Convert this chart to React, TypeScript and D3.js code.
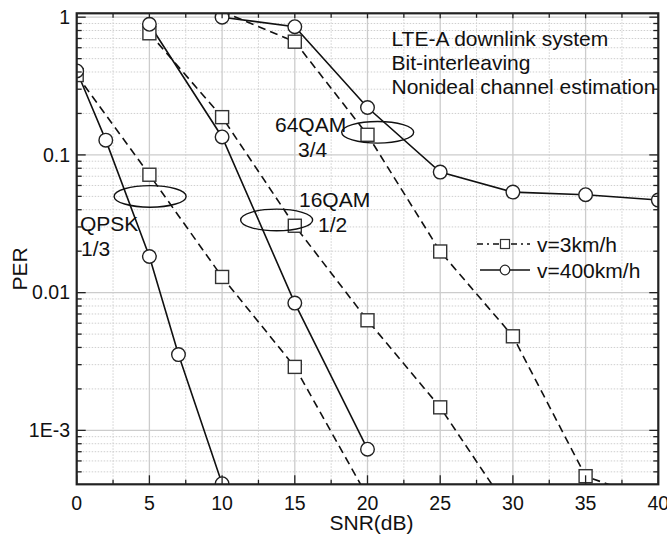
import React from "react";
import * as d3 from "d3";

// ---- data ----
const qpskSnr3 = [0, 5, 10, 15, 20];
const qpskPer3 = [0.38, 0.0718, 0.013, 0.00289, 0.00033];
const qpskSnr400 = [0, 2, 5, 7, 10];
const qpskPer400 = [0.407, 0.128, 0.0183, 0.00355, 0.00041];
const qam16Snr3 = [5, 10, 15, 20, 25, 30];
const qam16Per3 = [0.764, 0.188, 0.0306, 0.0063, 0.00147, 0.00024];
const qam16Snr400 = [5, 10, 15, 20];
const qam16Per400 = [0.888, 0.135, 0.0084, 0.00073];
const qam64Snr3 = [10, 15, 20, 25, 30, 35, 40];
const qam64Per3 = [1.1, 0.664, 0.14, 0.0199, 0.00482, 0.000465, 0.0003];
const qam64Snr400 = [10, 15, 20, 25, 30, 35, 40];
const qam64Per400 = [1.0, 0.853, 0.221, 0.075, 0.0537, 0.0514, 0.047];

const xTicks = [0, 5, 10, 15, 20, 25, 30, 35, 40];
const yTicks = [1, 0.1, 0.01, 0.001];
const yTickLabels = ["1", "0.1", "0.01", "1E-3"];

const ellipseSnr = [5.05, 13.75, 20.7];
const ellipsePer = [0.05, 0.0337, 0.146];

const legendLabels = ["v=3km/h", "v=400km/h"];
const noteLines = ["LTE-A downlink system", "Bit-interleaving", "Nonideal channel estimation"];

const W = 667;
const H = 535;
const L = 76.7, R = 658.3, T = 13.3, B = 484.3;
const FONT = "'Liberation Sans', Arial, Helvetica, sans-serif";

export default function App() {
  const x = d3.scaleLinear().domain([0, 40]).range([L, R]);
  const y = d3.scaleLog().domain([4.06e-4, 1.067]).range([B, T]);

  const series = [
    { s: qpskSnr3, p: qpskPer3, dashed: true },
    { s: qam16Snr3, p: qam16Per3, dashed: true },
    { s: qam64Snr3, p: qam64Per3, dashed: true },
    { s: qpskSnr400, p: qpskPer400, dashed: false },
    { s: qam16Snr400, p: qam16Per400, dashed: false },
    { s: qam64Snr400, p: qam64Per400, dashed: false },
  ];

  const line = d3
    .line<[number, number]>()
    .x((d) => x(d[0]))
    .y((d) => y(d[1]));

  const minorX = d3.range(2.5, 40, 5);
  const minorY: number[] = [];
  [1e-4, 1e-3, 1e-2, 1e-1].forEach((d) => {
    for (let k = 2; k <= 9; k++) {
      const v = k * d;
      if (v >= 4.06e-4 && v <= 1.067) minorY.push(v);
    }
  });

  const dash = "8,5";
  const sq = 13;
  const cr = 6.8;

  return (
    <svg
      width={W}
      height={H}
      style={{ position: "absolute", left: 0, top: 0, background: "#fff" }}
      fontFamily={FONT}
    >
      <defs>
        <clipPath id="plot">
          <rect x={L} y={T} width={R - L} height={B - T} />
        </clipPath>
      </defs>
      <rect x={0} y={0} width={W} height={H} fill="#fff" />

      {/* minor grid */}
      <g stroke="#cfcfcf" strokeWidth={1} strokeDasharray="1.5,1.5">
        {minorX.map((v) => (
          <line key={"mx" + v} x1={x(v)} x2={x(v)} y1={T} y2={B} />
        ))}
        {minorY.map((v) => (
          <line key={"my" + v} x1={L} x2={R} y1={y(v)} y2={y(v)} />
        ))}
      </g>
      {/* major grid */}
      <g stroke="#cccccc" strokeWidth={1.3}>
        {xTicks.map((v) => (
          <line key={"gx" + v} x1={x(v)} x2={x(v)} y1={T} y2={B} />
        ))}
        {yTicks.map((v) => (
          <line key={"gy" + v} x1={L} x2={R} y1={y(v)} y2={y(v)} />
        ))}
      </g>

      {/* series */}
      <g clipPath="url(#plot)">
        {series.map((sr, i) => (
          <path
            key={"l" + i}
            d={line(sr.s.map((v, j) => [v, sr.p[j]] as [number, number])) || ""}
            fill="none"
            stroke="#111"
            strokeWidth={1.6}
            strokeDasharray={sr.dashed ? dash : undefined}
          />
        ))}
        {series
          .filter((sr) => sr.dashed)
          .map((sr, i) =>
            sr.s.map((v, j) => (
              <rect
                key={"s" + i + "_" + j}
                x={x(v) - sq / 2}
                y={y(sr.p[j]) - sq / 2}
                width={sq}
                height={sq}
                fill="#fff"
                stroke="#333"
                strokeWidth={1.4}
              />
            ))
          )}
        {series
          .filter((sr) => !sr.dashed)
          .map((sr, i) =>
            sr.s.map((v, j) => (
              <circle
                key={"c" + i + "_" + j}
                cx={x(v)}
                cy={y(sr.p[j])}
                r={cr}
                fill="#fff"
                stroke="#222"
                strokeWidth={1.4}
              />
            ))
          )}
        {ellipseSnr.map((v, i) => (
          <ellipse
            key={"e" + i}
            cx={x(v)}
            cy={y(ellipsePer[i])}
            rx={36}
            ry={10.8}
            fill="none"
            stroke="#111"
            strokeWidth={1.4}
          />
        ))}
      </g>

      {/* ticks */}
      <g stroke="#222" strokeWidth={1.3}>
        {xTicks.map((v) => (
          <g key={"tx" + v}>
            <line x1={x(v)} x2={x(v)} y1={B} y2={B - 9} />
            <line x1={x(v)} x2={x(v)} y1={T} y2={T + 5} />
          </g>
        ))}
        {minorX.map((v) => (
          <g key={"tmx" + v}>
            <line x1={x(v)} x2={x(v)} y1={B} y2={B - 4.5} />
            <line x1={x(v)} x2={x(v)} y1={T} y2={T + 4.5} />
          </g>
        ))}
        {yTicks.map((v) => (
          <g key={"ty" + v}>
            <line x1={L} x2={L + 9} y1={y(v)} y2={y(v)} />
            <line x1={R} x2={R - 9} y1={y(v)} y2={y(v)} />
          </g>
        ))}
        {minorY.map((v) => (
          <g key={"tmy" + v}>
            <line x1={L} x2={L + 5} y1={y(v)} y2={y(v)} />
            <line x1={R} x2={R - 5} y1={y(v)} y2={y(v)} />
          </g>
        ))}
      </g>

      {/* frame */}
      <rect x={L} y={T} width={R - L} height={B - T} fill="none" stroke="#222" strokeWidth={2.2} />

      {/* tick labels */}
      <g fontSize={19.5} fill="#111">
        {xTicks.map((v) => (
          <text key={"lx" + v} x={x(v)} y={510} textAnchor="middle">
            {v}
          </text>
        ))}
        {yTicks.map((v, i) => (
          <text key={"ly" + v} x={70} y={y(v)} dy="0.35em" textAnchor="end">
            {yTickLabels[i]}
          </text>
        ))}
      </g>

      {/* axis titles */}
      <text x={371.5} y={530} textAnchor="middle" fontSize={21} fill="#111">
        SNR(dB)
      </text>
      <text
        transform="translate(26.5,269) rotate(-90)"
        textAnchor="middle"
        fontSize={21}
        fill="#111"
      >
        PER
      </text>

      {/* annotations */}
      <g fontSize={21} fill="#111">
        <text x={275} y={131.5}>64QAM</text>
        <text x={298} y={156.5}>3/4</text>
        <text x={299} y={206.5}>16QAM</text>
        <text x={318} y={231.5}>1/2</text>
        <text x={80} y={231}>QPSK</text>
        <text x={81} y={255.5}>1/3</text>
        {noteLines.map((t, i) => (
          <text key={"n" + i} x={391.5} y={46 + i * 24}>
            {t}
          </text>
        ))}
        <text x={537} y={251.5}>{legendLabels[0]}</text>
        <text x={537} y={277.5}>{legendLabels[1]}</text>
      </g>

      {/* legend symbols */}
      <g stroke="#111" strokeWidth={1.5}>
        <line x1={477} x2={499} y1={244} y2={244} strokeDasharray="6,4,2,4" />
        <line x1={511} x2={530} y1={244} y2={244} strokeDasharray="6,4,2,4" />
        <rect x={500.5} y={239.5} width={9} height={9} fill="#fff" stroke="#333" strokeWidth={1.2} />
        <line x1={480} x2={530} y1={270} y2={270} />
        <circle cx={505} cy={270} r={4.8} fill="#fff" stroke="#222" strokeWidth={1.2} />
      </g>
    </svg>
  );
}
